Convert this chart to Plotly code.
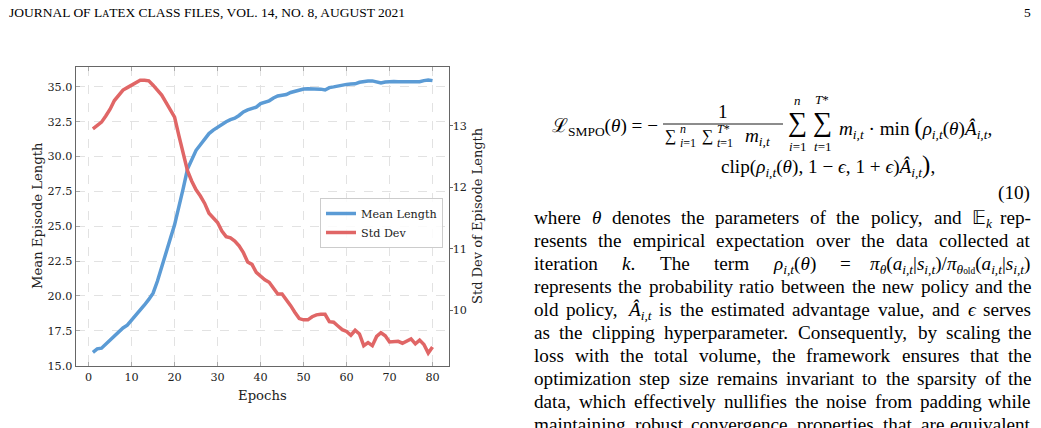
import re
import plotly.graph_objects as go

# ---------------- data ----------------
epochs = list(range(1, 81))
mean_length = [
    15.95, 16.20, 16.25, 16.55, 16.80, 17.10, 17.45, 17.70, 17.90, 18.25,
    18.60, 19.00, 19.35, 19.75, 20.20, 21.05, 22.00, 23.05, 24.10, 25.10,
    26.30, 27.70, 29.10, 29.85, 30.45, 30.85, 31.25, 31.65, 31.90, 32.10,
    32.35, 32.50, 32.65, 32.75, 32.95, 33.20, 33.35, 33.45, 33.55, 33.80,
    33.90, 34.00, 34.20, 34.35, 34.40, 34.45, 34.60, 34.70, 34.80, 34.85,
    34.87, 34.87, 34.86, 34.84, 34.78, 34.95, 35.00, 35.08, 35.14, 35.18,
    35.20, 35.22, 35.33, 35.40, 35.42, 35.43, 35.33, 35.28, 35.35, 35.38,
    35.38, 35.37, 35.38, 35.40, 35.38, 35.40, 35.37, 35.45, 35.50, 35.45,
]
std_dev = [
    12.95, 13.00, 13.06, 13.16, 13.27, 13.41, 13.50, 13.58, 13.62, 13.66,
    13.71, 13.74, 13.74, 13.73, 13.66, 13.57, 13.50, 13.38, 13.27, 13.14,
    12.84, 12.54, 12.27, 12.10, 11.96, 11.86, 11.74, 11.58, 11.50, 11.43,
    11.29, 11.20, 11.18, 11.13, 11.05, 10.94, 10.79, 10.75, 10.62, 10.55,
    10.50, 10.46, 10.37, 10.27, 10.27, 10.18, 10.08, 9.97, 9.87, 9.85,
    9.85, 9.90, 9.93, 9.94, 9.94, 9.82, 9.81, 9.75, 9.69, 9.66,
    9.60, 9.68, 9.62, 9.43, 9.48, 9.43, 9.58, 9.64, 9.59, 9.49,
    9.50, 9.50, 9.47, 9.50, 9.54, 9.46, 9.52, 9.45, 9.31, 9.41,
]
x_tick_vals = [0, 10, 20, 30, 40, 50, 60, 70, 80]
left_tick_vals = [15.0, 17.5, 20.0, 22.5, 25.0, 27.5, 30.0, 32.5, 35.0]
left_tick_text = ["15.0", "17.5", "20.0", "22.5", "25.0", "27.5", "30.0", "32.5", "35.0"]
right_tick_vals = [10, 11, 12, 13]
series_names = ["Mean Length", "Std Dev"]

# ---------------- page text ----------------
header_text = ("JOURNAL OF L<span style='font-size:72%'>A</span>T"
               "<span style='font-size:95%'>E</span>X CLASS FILES, VOL. 14, NO. 8, AUGUST 2021")
page_number = "5"
paragraph_lines = [
    ["where", "<i>θ</i>", "denotes", "the", "parameters", "of", "the", "policy,", "and",
     "𝔼<sub><i>k</i></sub>", "rep-"],
    ["resents", "the", "empirical", "expectation", "over", "the", "data", "collected", "at"],
    ["iteration", "<i>k</i>.", "The", "term", "<i>ρ</i><sub><i>i,t</i></sub>(<i>θ</i>)", "=",
     "<i>π</i><sub><i>θ</i></sub>(<i>a</i><sub><i>i,t</i></sub>|<i>s</i><sub><i>i,t</i></sub>)/"
     "<i>π</i><sub><i>θ</i><span style='font-size:70%'>old</span></sub>(<i>a</i><sub><i>i,t</i></sub>|<i>s</i><sub><i>i,t</i></sub>)"],
    ["represents", "the", "probability", "ratio", "between", "the", "new", "policy", "and", "the"],
    ["old", "policy,", "<i>Â</i><sub><i>i,t</i></sub>", "is", "the", "estimated", "advantage",
     "value,", "and", "<i>ϵ</i>", "serves"],
    ["as", "the", "clipping", "hyperparameter.", "Consequently,", "by", "scaling", "the"],
    ["loss", "with", "the", "total", "volume,", "the", "framework", "ensures", "that", "the"],
    ["optimization", "step", "size", "remains", "invariant", "to", "the", "sparsity", "of", "the"],
    ["data,", "which", "effectively", "nullifies", "the", "noise", "from", "padding", "while"],
    ["maintaining", "robust", "convergence", "properties", "that", "are", "equivalent"],
]

# ---------------- helpers ----------------
W, H = 1041, 428


def px(x):
    return x / W


def py(y):
    return 1 - y / H


BLUE = "#5B9BD5"
RED = "#E06666"
CHART_FONT = "DejaVu Serif"
PAGE_FONT = "Liberation Serif"
TXT = 19.2

TIMES = {
    " ": 250, ",": 250, ".": 250, "-": 333, "(": 333, ")": 333, "|": 200, "/": 278,
    "=": 564, "+": 564, "−": 564, "*": 500,
    "A": 722, "B": 667, "C": 667, "D": 722, "E": 611, "F": 556, "G": 722, "H": 722,
    "I": 333, "J": 389, "K": 722, "L": 611, "M": 889, "N": 722, "O": 722, "P": 556,
    "Q": 722, "R": 667, "S": 556, "T": 611, "U": 722, "V": 722, "W": 944, "X": 722,
    "Y": 722, "Z": 611,
    "a": 444, "b": 500, "c": 444, "d": 500, "e": 444, "f": 333, "g": 500, "h": 500,
    "i": 278, "j": 278, "k": 500, "l": 278, "m": 778, "n": 500, "o": 500, "p": 500,
    "q": 500, "r": 333, "s": 389, "t": 278, "u": 500, "v": 500, "w": 722, "x": 500,
    "y": 500, "z": 444, "Â": 722, "𝔼": 650,
}


def text_width(html, size):
    w = 0.0
    scale = [1.0]
    for tok in re.split(r"(<[^>]+>)", html):
        if tok.startswith("</"):
            if re.match(r"</(sub|sup|span)", tok) and len(scale) > 1:
                scale.pop()
            continue
        if tok.startswith("<"):
            if re.match(r"<(sub|sup)", tok):
                scale.append(scale[-1] * 0.7)
            elif tok.startswith("<span"):
                m = re.search(r"font-size:(\d+)%", tok)
                f = int(m.group(1)) / 100 if m else 1.0
                scale.append(scale[-1] * f)
            continue
        for ch in tok:
            w += TIMES.get(ch, 500) * scale[-1]
    return w * size / 1000


annotations = []
shapes = []


def add_text(text, x, y, size, xanchor="left", yanchor="middle", family=PAGE_FONT,
             angle=0, color="black"):
    annotations.append(dict(
        text=text, x=px(x), y=py(y), xref="paper", yref="paper", showarrow=False,
        xanchor=xanchor, yanchor=yanchor, textangle=angle, borderpad=0,
        font=dict(family=family, size=size, color=color)))


# ---------------- chart ----------------
fig = go.Figure()
fig.add_trace(go.Scatter(x=epochs, y=mean_length, mode="lines", name=series_names[0],
                         line=dict(color=BLUE, width=3.5), yaxis="y"))
fig.add_trace(go.Scatter(x=epochs, y=std_dev, mode="lines", name=series_names[1],
                         line=dict(color=RED, width=3.5), yaxis="y2"))

tickfont = dict(family=CHART_FONT, size=11.2, color="#222222")
common = dict(showline=True, linecolor="#666666", linewidth=1.2, zeroline=False,
              tickfont=tickfont, gridcolor="#e2e2e2", gridwidth=0.8, griddash="dash",
              automargin=False)

plot_left, plot_right, plot_top, plot_bottom = 75.7, 449.3, 66.7, 366.0

fig.update_layout(
    width=W, height=H, margin=dict(l=0, r=0, t=0, b=0),
    paper_bgcolor="white", plot_bgcolor="white", showlegend=True,
    xaxis=dict(domain=[px(plot_left), px(plot_right)], range=[-3.0, 83.9],
               tickvals=x_tick_vals, ticks="inside", ticklen=4, tickcolor="#aaaaaa",
               mirror="ticks", showgrid=True, **common),
    yaxis=dict(domain=[py(plot_bottom), py(plot_top)], range=[14.97, 36.45],
               tickvals=left_tick_vals, ticktext=left_tick_text, ticks="inside",
               ticklen=4, tickcolor="#aaaaaa", mirror=True, showgrid=True, **common),
    yaxis2=dict(overlaying="y", side="right", range=[9.10, 13.96], tickvals=right_tick_vals,
                ticks="outside", ticklen=3, tickcolor="#666666", showgrid=False,
                ticklabelstandoff=-3, **common),
    legend=dict(x=px(443), y=py(198), xanchor="right", yanchor="top",
                bgcolor="rgba(255,255,255,0.85)", bordercolor="#cccccc", borderwidth=1,
                font=dict(family=CHART_FONT, size=11.2, color="#222222"),
                tracegroupgap=0),
)

# axis titles
add_text("Epochs", 262, 395, 13.2, xanchor="center", family=CHART_FONT, color="#222222")
add_text("Mean Episode Length", 38, 216, 13.2, xanchor="center", family=CHART_FONT,
         angle=-90, color="#222222")
add_text("Std Dev of Episode Length", 478, 216, 13.0, xanchor="center", family=CHART_FONT,
         angle=-90, color="#222222")

# ---------------- page header ----------------
add_text(header_text, 8, 4, 13.5, yanchor="top")
add_text(page_number, 1032, 4, 13.5, xanchor="right", yanchor="top")

# ---------------- equation (10) ----------------
add_text("ℒ<sub>SMPO</sub>(<i>θ</i>) = −", 551, 127, TXT)
add_text("1", 723, 111, TXT, xanchor="center")
shapes.append(dict(type="line", xref="paper", yref="paper", x0=px(663), x1=px(783),
                   y0=py(124), y1=py(124), line=dict(color="black", width=0.9)))
den = [("∑", 664, 136, 16), ("<i>n</i>", 679, 129, 12), ("<i>i</i>=1", 679, 143, 12),
       ("∑", 701, 136, 16), ("<i>T</i>*", 716, 129, 12), ("<i>t</i>=1", 716, 143, 12),
       ("<i>m</i><sub><i>i,t</i></sub>", 744, 137, TXT)]
for t, x, y, s in den:
    add_text(t, x, y, s)
for cx in (797, 822):
    add_text("∑", cx, 122, 27, xanchor="center")
add_text("<i>n</i>", 797, 100, 13, xanchor="center")
add_text("<i>T</i>*", 822, 99, 13, xanchor="center")
add_text("<i>i</i>=1", 797, 146, 13, xanchor="center")
add_text("<i>t</i>=1", 822, 146, 13, xanchor="center")
add_text("<i>m</i><sub><i>i,t</i></sub> · min <span style='font-size:130%'>(</span><i>ρ</i><sub><i>i,t</i></sub>(<i>θ</i>)<i>Â</i><sub><i>i,t</i></sub>,",
         838, 127, TXT)
add_text("clip(<i>ρ</i><sub><i>i,t</i></sub>(<i>θ</i>), 1 − <i>ϵ</i>, 1 + <i>ϵ</i>)<i>Â</i><sub><i>i,t</i></sub><span style='font-size:130%'>)</span>,",
         720, 165, TXT)
add_text("(10)", 1031, 193, TXT, xanchor="right")

# ---------------- justified paragraph ----------------
col_left, col_right = 533, 1032
base0, lead = 223.2, 22.95
ascent = 0.891 * TXT
for k, words in enumerate(paragraph_lines):
    widths = [text_width(w, TXT) for w in words]
    gap = (col_right - col_left - sum(widths)) / (len(words) - 1)
    top = base0 + k * lead - ascent
    x = col_left
    for i, (w, wd) in enumerate(zip(words, widths)):
        if i == len(words) - 1:
            add_text(w, col_right, top, TXT, xanchor="right", yanchor="top")
        else:
            add_text(w, x, top, TXT, xanchor="left", yanchor="top")
        x += wd + gap

fig.update_layout(annotations=annotations, shapes=shapes)
fig.write_html("out.html")
